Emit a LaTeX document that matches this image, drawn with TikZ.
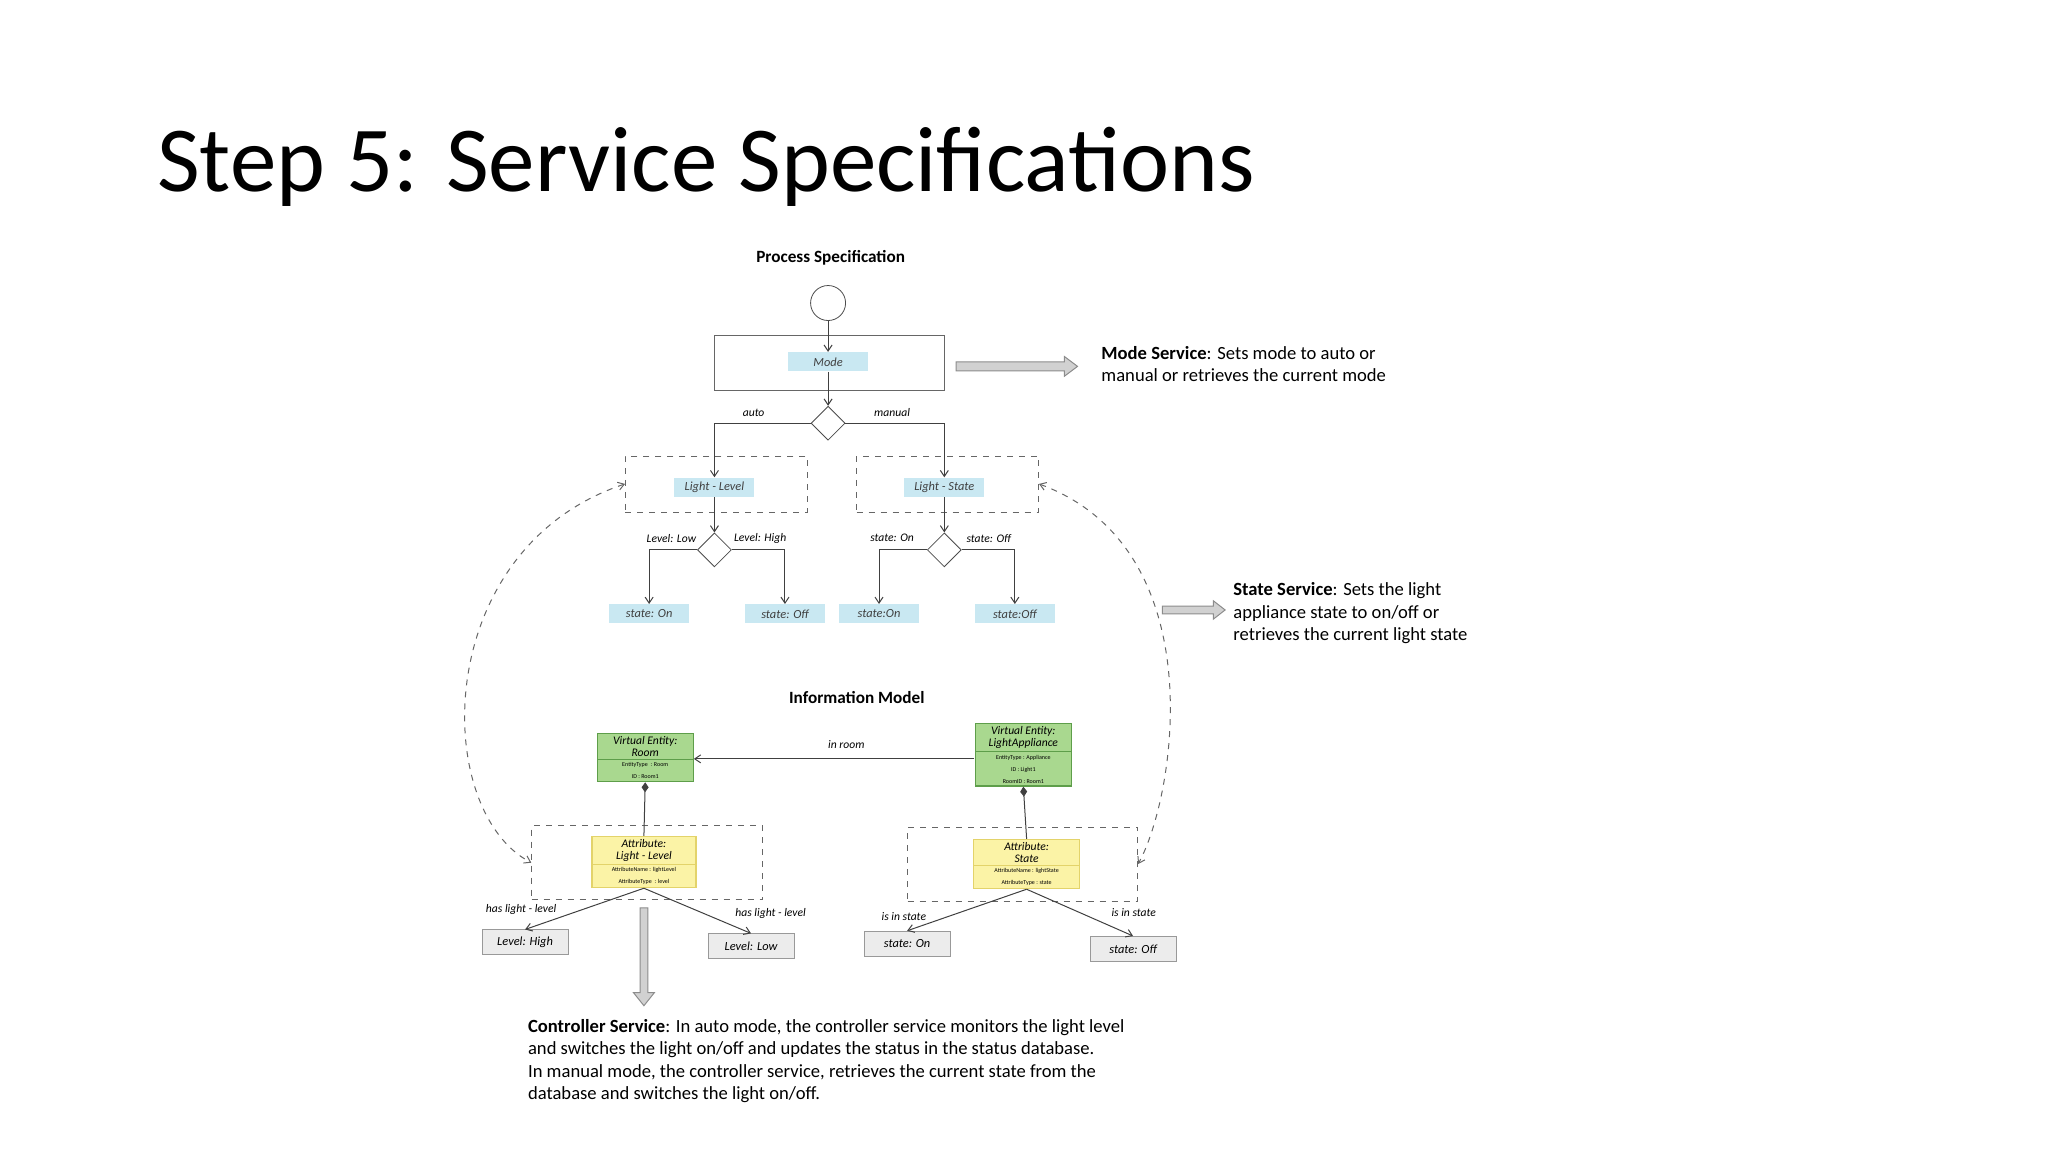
\documentclass[tikz,border=0pt]{standalone}
\usepackage{fontspec}
\setmainfont{Carlito}
\usetikzlibrary{shapes.geometric,shapes.multipart,arrows.meta}
\definecolor{lb}{HTML}{C9E8F2}
\definecolor{gr}{HTML}{A9D88F}
\definecolor{grb}{HTML}{5E9E4A}
\definecolor{yl}{HTML}{FBF3A6}
\definecolor{ylb}{HTML}{E3D36A}
\definecolor{gb}{HTML}{ECECEC}
\newcommand{\hdf}{\fontsize{5.8}{6}\selectfont\itshape}
\newcommand{\smf}{\fontsize{3}{3.6}\selectfont\upshape}
\begin{document}
\begin{tikzpicture}[x=0.6531pt,y=-0.6531pt,
  lbl/.style={font=\fontsize{5.8}{6}\selectfont\itshape, inner sep=1pt},
  tag/.style={fill=lb, minimum width=40pt, minimum height=9.5pt, inner sep=0pt, font=\fontsize{6.2}{6.5}\selectfont\itshape, text=black!75},
  dec/.style={diamond, draw=black!70, minimum width=17pt, minimum height=17pt, inner sep=0pt, fill=white},
  dbox/.style={draw=black!60, dashed, minimum width=#1, inner sep=0pt},
  con/.style={draw=black!75, -{Straight Barb[length=3pt,width=4pt]}, line width=0.5pt},
  leaf/.style={draw=black!40, fill=gb, minimum width=43pt, minimum height=12.5pt, inner sep=0pt, font=\fontsize{6.2}{7}\selectfont\itshape},
  uml/.style={rectangle split, rectangle split parts=2, draw=#1, line width=0.6pt, inner sep=1.2pt, align=center},
  curve/.style={draw=black!60, dashed, line width=0.5pt, {Straight Barb[length=3pt,width=4pt]}-{Straight Barb[length=3pt,width=4pt]}},
  txt/.style={font=\fontsize{9.3}{11.2}\selectfont, align=left, anchor=north west, inner sep=0pt},
  barrow/.style={draw=black!45, fill=black!18, line width=0.5pt}
]
\useasboundingbox (0,0) rectangle (1568,882);
\node[anchor=west, font=\fontsize{46.5}{50}\selectfont, inner sep=0pt] (title) at (120,128) {Step 5: Service Specifications};

% Process spec
\node[font=\fontsize{8.6}{10}\selectfont\bfseries] (ps) at (636,197) {Process Specification};
\node[circle, draw=black!70, minimum size=17.5pt, inner sep=0pt] (start) at (634,232) {};
\node[draw=black!60, minimum width=115pt, minimum height=27.5pt] (modebox) at (635,278) {};
\node[tag] (mode) at (634,277) {Mode};
\node[dec] (d1) at (634,324) {};
\node[lbl] (auto) at (577,316) {auto};
\node[lbl] (manual) at (683,316) {manual};
\node[dbox=91pt, minimum height=28pt] (llbox) at (548.5,370.5) {};
\node[dbox=91pt, minimum height=28pt] (lsbox) at (725.5,370.5) {};
\node[tag] (ll) at (547,373) {Light - Level};
\node[tag] (ls) at (723,373) {Light - State};
\node[dec] (d2) at (547,421) {};
\node[dec] (d3) at (723,421) {};
\node[lbl] (llow) at (514,412) {Level: Low};
\node[lbl] (lhigh) at (582,412) {Level: High};
\node[lbl] (son) at (683,412) {state: On};
\node[lbl] (soff) at (757,412) {state: Off};
\node[tag] (t1) at (497,470) {state: On};
\node[tag] (t2) at (601,470) {state: Off};
\node[tag] (t3) at (673,470) {state:On};
\node[tag] (t4) at (777,470) {state:Off};
\draw[con] (start) -- (mode);
\draw[con] (mode) -- (d1);
\draw[con] (d1.west) -| (ll.north);
\draw[con] (d1.east) -| (ls.north);
\draw[con] (ll) -- (d2);
\draw[con] (ls) -- (d3);
\draw[con] (d2.west) -| (t1.north);
\draw[con] (d2.east) -| (t2.north);
\draw[con] (d3.west) -| (t3.north);
\draw[con] (d3.east) -| (t4.north);

% Service arrows and texts
\draw[barrow] (732,277) -- (815,277) -- (815,273) -- (825,280.5) -- (815,288) -- (815,284) -- (732,284) -- cycle;
\node[txt] (ms) at (843,265) {\textbf{Mode Service}: Sets mode to auto or\\manual or retrieves the current mode};
\draw[barrow] (890,464) -- (929,464) -- (929,460) -- (938,467) -- (929,474) -- (929,470) -- (890,470) -- cycle;
\node[txt] (ss) at (944,446) {\textbf{State Service}: Sets the light\\appliance state to on/off or\\retrieves the current light state};

% Information model
\node[font=\fontsize{8.6}{10}\selectfont\bfseries] (im) at (656,534) {Information Model};
\node[uml=grb, rectangle split part fill={gr,gr}, minimum width=48pt, font=\hdf] (room) at (494,580)
  {Virtual Entity:\\Room\nodepart{two}\smf EntityType\ \ : Room\\\smf ID : Room1};
\node[uml=grb, rectangle split part fill={gr,gr}, minimum width=48pt, font=\hdf] (app) at (783.5,578)
  {Virtual Entity:\\LightAppliance\nodepart{two}\smf EntityType : Appliance\\\smf ID : Light1\\\smf RoomID : Room1};
\coordinate (a1) at (746,581);
\draw[con] (a1) -- (room.east |- a1);
\node[lbl] (inroom) at (648,570) {in room};
\node[dbox=115.5pt, minimum height=37pt] (attlbox) at (495.5,660.5) {};
\node[dbox=115pt, minimum height=37pt] (attsbox) at (783,661.5) {};
\node[uml=ylb, rectangle split part fill={yl,yl}, minimum width=52pt, font=\hdf] (attl) at (493,660)
  {Attribute:\\Light - Level\nodepart{two}\smf AttributeName : lightLevel\\\smf AttributeType\ \ : level};
\node[uml=ylb, rectangle split part fill={yl,yl}, minimum width=53pt, font=\hdf] (atts) at (786,661.5)
  {Attribute:\\State\nodepart{two}\smf AttributeName : lightState\\\smf AttributeType : state};
\draw[draw=black!75, line width=0.5pt, -{Diamond[length=5pt,width=3.5pt]}] (attl.north) -- (room.south);
\draw[draw=black!75, line width=0.5pt, -{Diamond[length=5pt,width=3.5pt]}] (atts.north) -- (app.south);
\node[leaf] (lh) at (402,721.5) {Level: High};
\node[leaf] (lo) at (575,724.5) {Level: Low};
\node[leaf] (s1) at (694.5,722.5) {state: On};
\node[leaf] (s2) at (867.5,726.5) {state: Off};
\draw[con] (attl.south) -- (lh.north);
\draw[con] (attl.south) -- (lo.north);
\draw[con] (atts.south) -- (s1.north);
\draw[con] (atts.south) -- (s2.north);
\node[lbl] (h1) at (399,696) {has light - level};
\node[lbl] (h2) at (590,699) {has light - level};
\node[lbl] (i1) at (692,702) {is in state};
\node[lbl] (i2) at (868,699) {is in state};

% dashed curves
\draw[curve] (llbox.west) .. controls (330,420) and (330,620) .. (attlbox.west);
\draw[curve] (lsbox.east) .. controls (930,420) and (900,610) .. (attsbox.east);

% controller arrow
\draw[barrow] (490,695) -- (496,695) -- (496,760) -- (501,760) -- (493,770) -- (485,760) -- (490,760) -- cycle;
\node[txt] (cs) at (404,780) {\textbf{Controller Service}: In auto mode, the controller service monitors the light level\\and switches the light on/off and updates the status in the status database.\\In manual mode, the controller service, retrieves the current state from the\\database and switches the light on/off.};
\end{tikzpicture}
\end{document}
